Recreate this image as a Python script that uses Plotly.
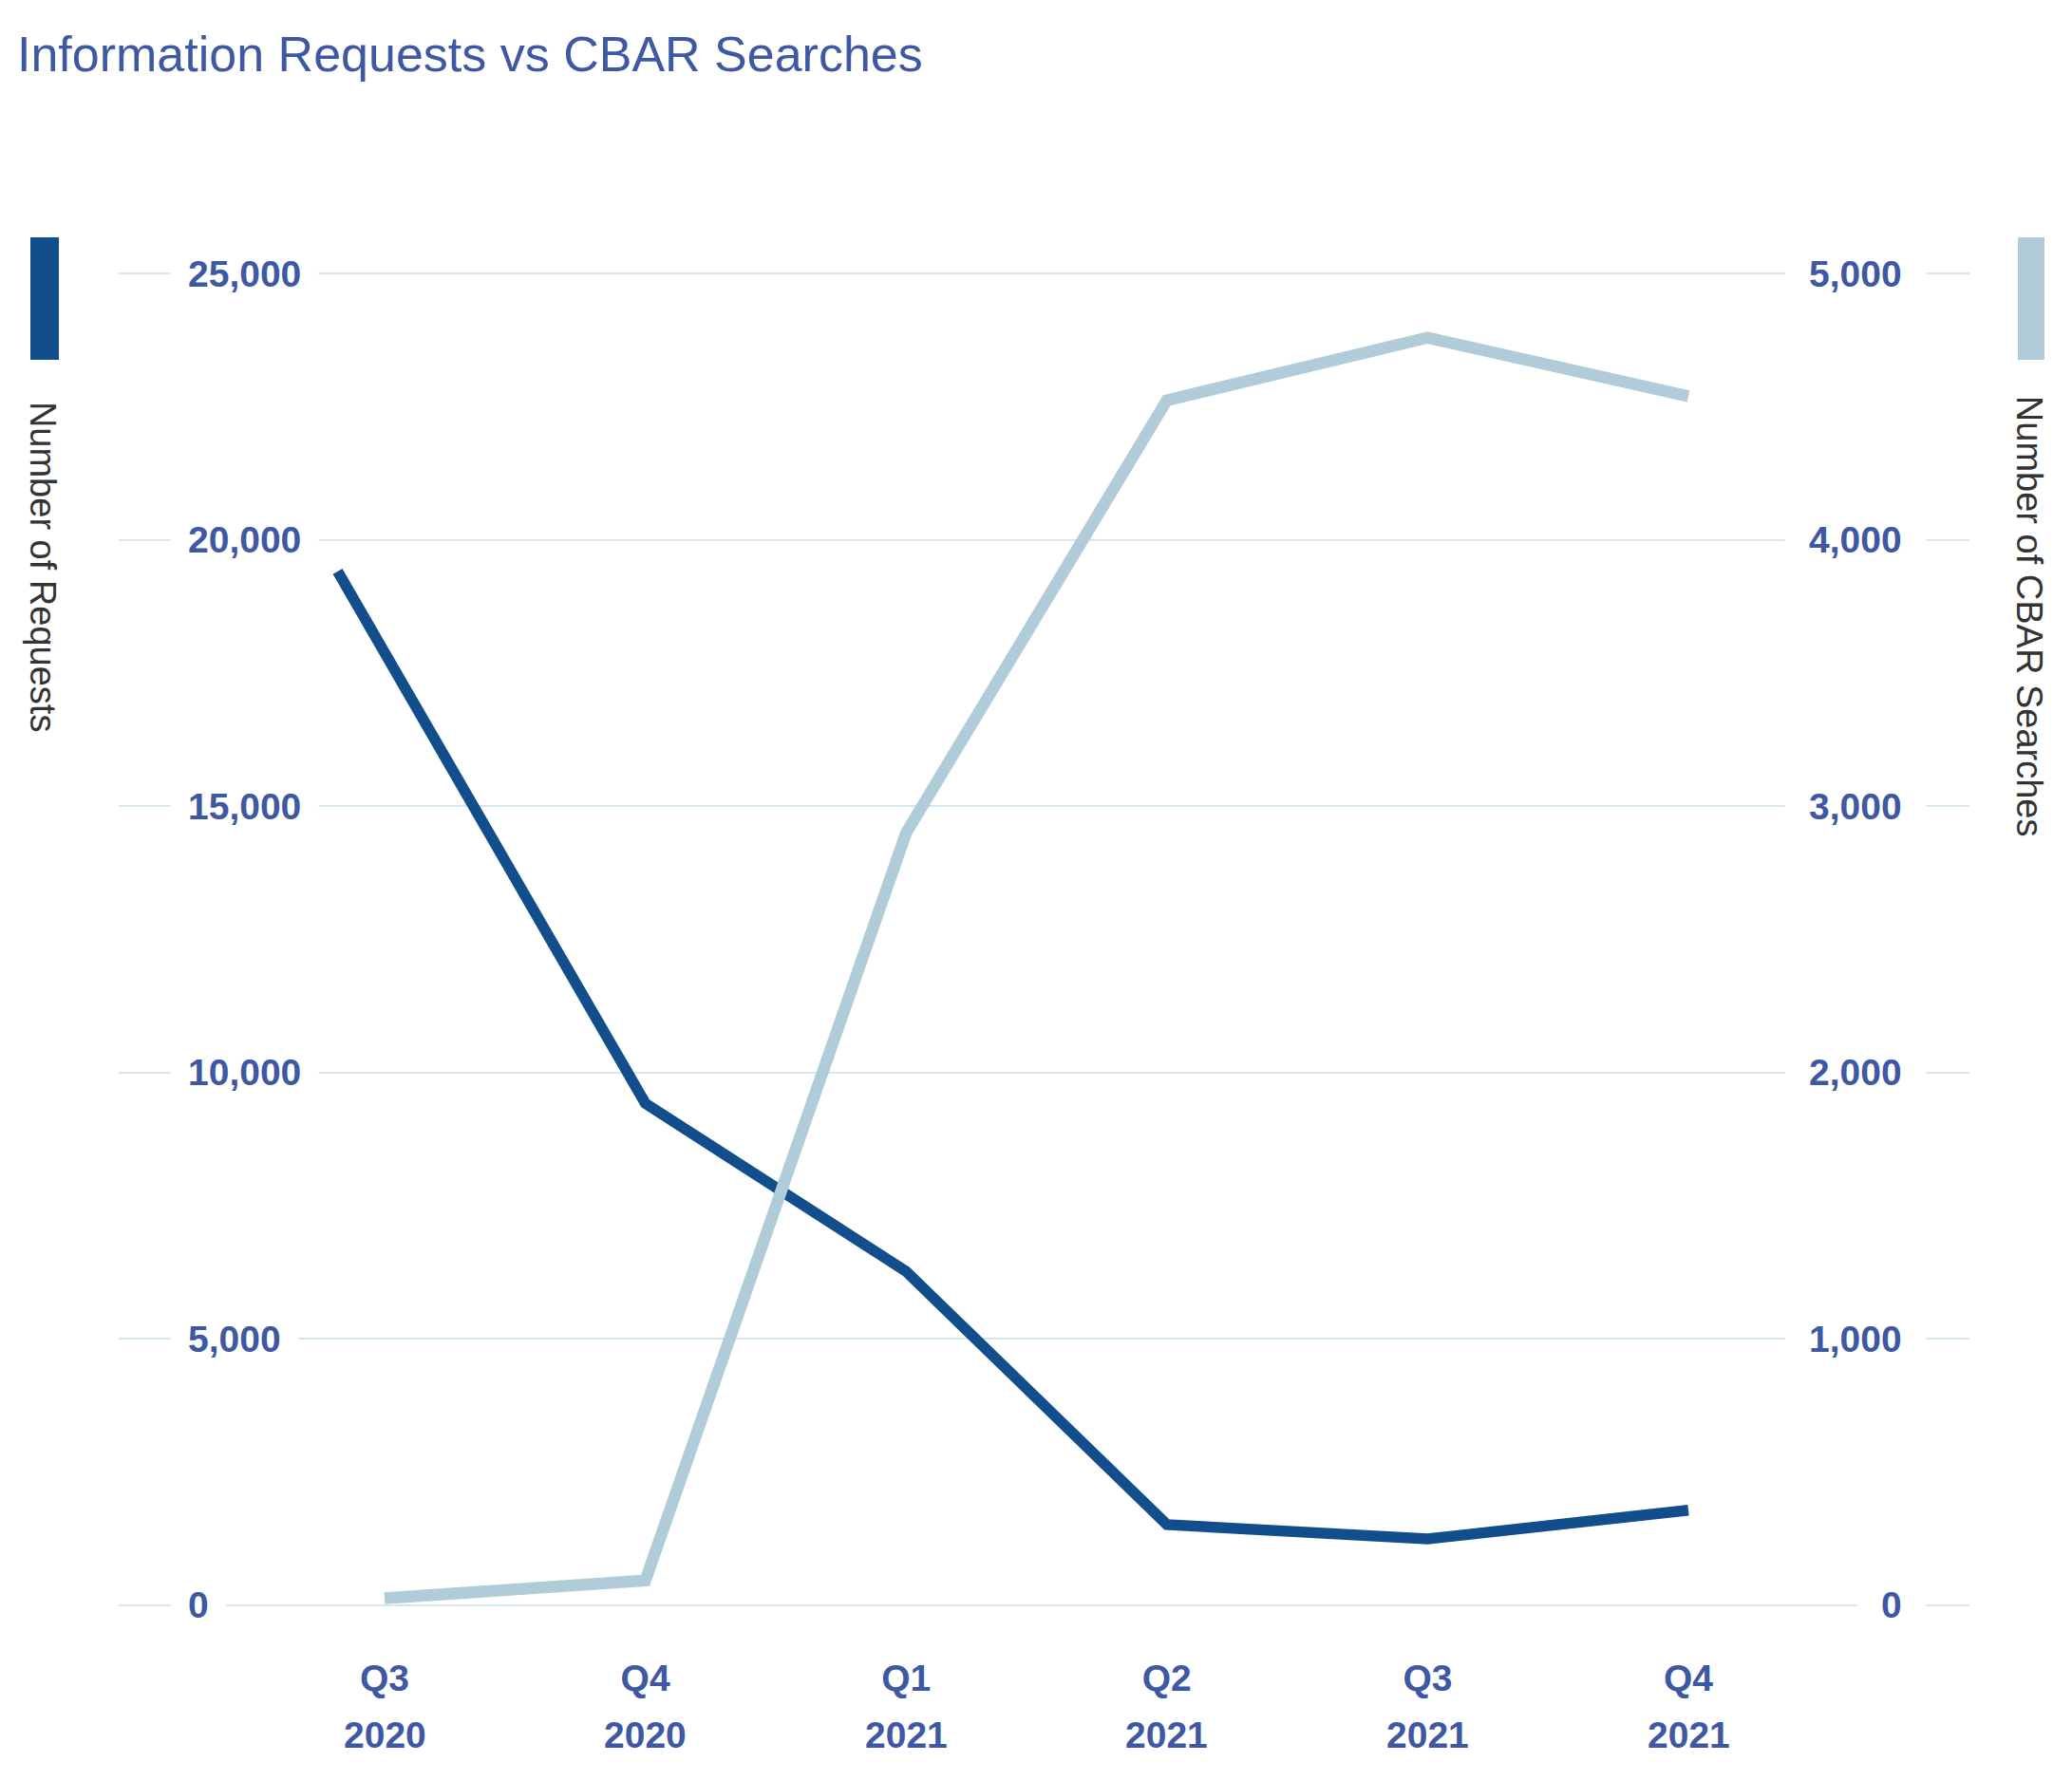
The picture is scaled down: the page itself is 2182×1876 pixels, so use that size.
import plotly.graph_objects as go

# ---- data ----
quarters = ["Q3", "Q4", "Q1", "Q2", "Q3", "Q4"]
years = ["2020", "2020", "2021", "2021", "2021", "2021"]
cat_pos = [0, 1, 2, 3, 4, 5]
requests_x = [-0.18, 1, 2, 3, 4, 5]
requests = [19410, 9420, 6265, 1510, 1240, 1780]
cbar_x = [0, 1, 2, 3, 4, 5]
cbar = [25, 92, 2900, 4525, 4760, 4540]
left_ticks = [0, 5000, 10000, 15000, 20000, 25000]
right_ticks = [0, 1000, 2000, 3000, 4000, 5000]

# ---- style ----
# page body has an 8px margin, so the figure is sized/placed to compensate
W, H = 2174, 1868
L, R, T, B = 117, 108, 258, 162.5
PW, PH = W - L - R, H - T - B
DARK = "#134E8C"
LIGHT = "#B0CCD8"
TXT = "#3E58A3"
GRID = "#D6E6EF"
FONT = "Liberation Sans, Arial, Helvetica, sans-serif"


def px_x(p):
    return (p - L) / PW


def px_y(p):
    return (H - B - p) / PH


fig = go.Figure()
fig.add_trace(go.Scatter(x=requests_x, y=requests, mode="lines", name="Number of Requests",
                         line=dict(color=DARK, width=11.5), yaxis="y", hoverinfo="x+y"))
fig.add_trace(go.Scatter(x=cbar_x, y=cbar, mode="lines", name="Number of CBAR Searches",
                         line=dict(color=LIGHT, width=12.5), yaxis="y2", hoverinfo="x+y"))

annotations = []
for v in left_ticks:
    annotations.append(dict(x=px_x(171), xref="paper", y=v, yref="y", text=f"{v:,}",
                            showarrow=False, xanchor="left", yanchor="middle",
                            bgcolor="white", borderpad=18,
                            font=dict(family=FONT, size=39, color=TXT, weight="bold")))
for v in right_ticks:
    annotations.append(dict(x=px_x(2021), xref="paper", y=v, yref="y2", text=f"{v:,}",
                            showarrow=False, xanchor="right", yanchor="middle",
                            bgcolor="white", borderpad=25,
                            font=dict(family=FONT, size=39, color=TXT, weight="bold")))
for xp, yr in zip(cat_pos, years):
    annotations.append(dict(x=xp, xref="x", y=px_y(1820), yref="paper", text=yr,
                            showarrow=False, xanchor="center", yanchor="middle",
                            font=dict(family=FONT, size=39, color=TXT, weight="bold")))
annotations.append(dict(x=px_x(37), xref="paper", y=px_y(589), yref="paper",
                        text="Number of Requests", textangle=90, showarrow=False,
                        xanchor="center", yanchor="middle",
                        font=dict(family=FONT, size=38, color="#333333")))
annotations.append(dict(x=px_x(2129), xref="paper", y=px_y(641), yref="paper",
                        text="Number of CBAR Searches", textangle=90, showarrow=False,
                        xanchor="center", yanchor="middle",
                        font=dict(family=FONT, size=38, color="#333333")))

shapes = [
    dict(type="rect", xref="paper", yref="paper", x0=px_x(24), x1=px_x(54),
         y0=px_y(371), y1=px_y(242), fillcolor=DARK, line=dict(width=0)),
    dict(type="rect", xref="paper", yref="paper", x0=px_x(2117), x1=px_x(2145),
         y0=px_y(371), y1=px_y(242), fillcolor=LIGHT, line=dict(width=0)),
]

fig.update_layout(
    width=W, height=H,
    margin=dict(l=L, r=R, t=T, b=B, pad=0),
    paper_bgcolor="white", plot_bgcolor="white",
    showlegend=False,
    title=dict(text="Information Requests vs CBAR Searches", x=10 / W, xanchor="left",
               xref="container", yref="container", y=1 - 48.8 / H, yanchor="middle",
               font=dict(family=FONT, size=52, color=TXT)),
    xaxis=dict(range=[-(397 - L) / 274.6, (W - R - 397) / 274.6], tickmode="array",
               tickvals=cat_pos, ticktext=quarters, showgrid=False, zeroline=False,
               showline=False, ticks="", ticklabelstandoff=28,
               tickfont=dict(family=FONT, size=39, color=TXT, weight="bold")),
    yaxis=dict(range=[-400, 25400], tickmode="array", tickvals=left_ticks,
               showticklabels=False, showgrid=True, gridcolor=GRID, gridwidth=2,
               zeroline=False, showline=False, ticks=""),
    yaxis2=dict(range=[-80, 5080], overlaying="y", side="right", tickmode="array",
                tickvals=right_ticks, showticklabels=False, showgrid=False,
                zeroline=False, showline=False, ticks=""),
    annotations=annotations,
    shapes=shapes,
)

fig.write_html("out.html")
